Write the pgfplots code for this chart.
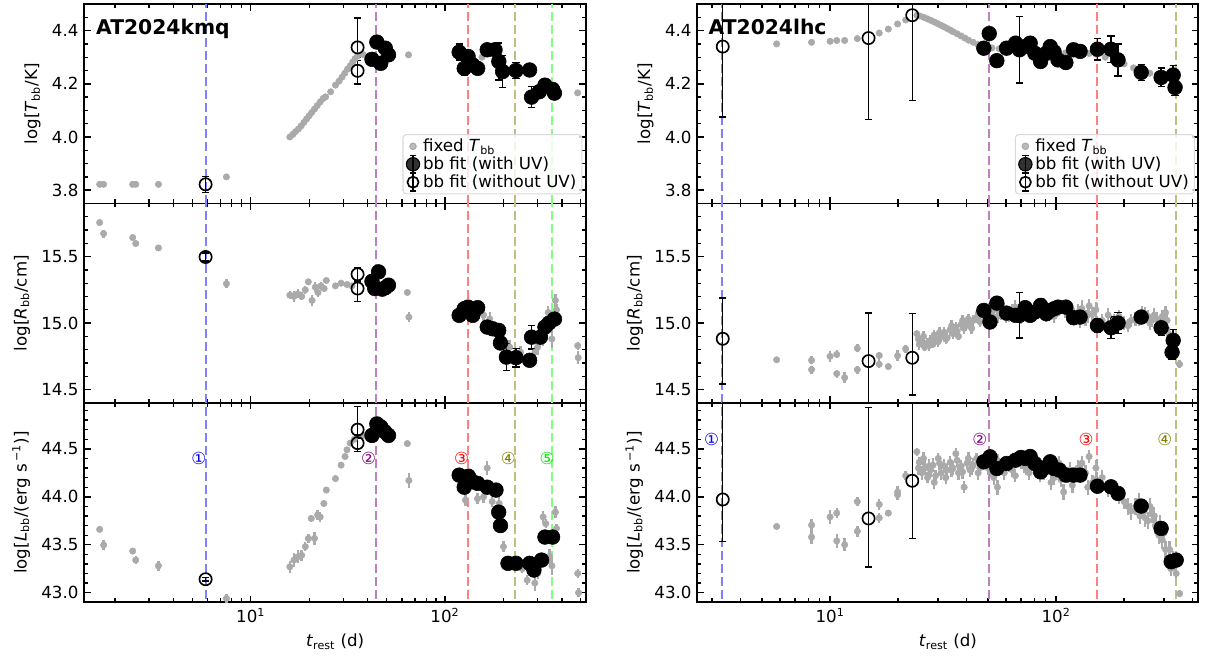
\documentclass[border=0pt]{standalone}
\usepackage{fontspec}
\setmainfont{DejaVu Sans}
\usepackage{pgfplots}
\usepackage{pgfplotstable}
\pgfplotsset{compat=1.18}

\definecolor{ptgray}{RGB}{170,170,170}
\definecolor{lblue}{RGB}{128,128,255}
\definecolor{lpurple}{RGB}{191,128,191}
\definecolor{lred}{RGB}{255,128,128}
\definecolor{lolive}{RGB}{191,191,128}
\definecolor{llime}{RGB}{128,255,128}
\definecolor{cblue}{RGB}{0,0,255}
\definecolor{cpurple}{RGB}{128,0,128}
\definecolor{cred}{RGB}{255,0,0}
\definecolor{colive}{RGB}{128,128,0}
\definecolor{clime}{RGB}{0,230,0}

% ================= AT2024kmq =================
\pgfplotstableread{
t v
1.67 3.822
1.75 3.822
2.47 3.822
2.56 3.822
3.35 3.822
7.5 3.850
15.9 4.000
16.5 4.010
17.0 4.020
17.6 4.030
18.2 4.042
18.8 4.055
19.4 4.068
20.0 4.080
20.6 4.092
21.3 4.105
22.0 4.118
22.8 4.132
23.6 4.145
24.3 4.151
25.8 4.170
27.3 4.195
28.5 4.210
29.5 4.225
30.5 4.240
31.5 4.255
32.5 4.268
33.5 4.282
34.5 4.295
35.5 4.305
38.0 4.310
64.9 4.309
140 4.290
155 4.300
162 4.315
170 4.325
482 4.166
}\kmqTg
\pgfplotstableread{
t v ep em
5.86 3.822 0.03 0.03
35.5 4.337 0.11 0.05
35.5 4.249 0.05 0.05
}\kmqTo
\pgfplotstableread{
t v e
42.1 4.292 0.02
44.6 4.357 0.02
46.7 4.277 0.02
49.3 4.334 0.02
51.2 4.309 0.02
118.3 4.319 0.03
125.6 4.258 0.025
131.5 4.303 0.02
139.0 4.271 0.025
147.3 4.258 0.02
165.0 4.328 0.015
180.9 4.328 0.015
189.3 4.284 0.07
198.0 4.246 0.06
232.0 4.250 0.03
272.7 4.252 0.025
279.0 4.150 0.04
305.5 4.170 0.02
327.0 4.195 0.02
358.0 4.179 0.02
366.0 4.165 0.02
}\kmqTb

\pgfplotstableread{
t v e
1.67 15.756 0.015
1.75 15.673 0.03
2.47 15.643 0.015
2.56 15.598 0.02
3.35 15.565 0.025
7.5 15.296 0.035
15.9 15.21 0.03
16.7 15.20 0.04
17.5 15.22 0.035
18.3 15.20 0.03
19.1 15.25 0.03
19.8 15.31 0.02
20.7 15.17 0.04
21.5 15.27 0.04
22.2 15.23 0.035
23.0 15.28 0.03
23.9 15.26 0.02
24.5 15.32 0.02
27.3 15.28 0.015
29.2 15.30 0.015
31.3 15.29 0.015
33.2 15.28 0.015
40.2 15.30 0.015
64.0 15.23 0.015
65.2 15.045 0.04
150 15.08 0.04
158 15.06 0.05
170 15.03 0.05
185 14.95 0.05
195 14.90 0.05
215 14.82 0.05
245 14.78 0.05
290 14.78 0.05
300 14.82 0.06
320 14.88 0.05
340 15.08 0.05
355 14.88 0.07
370 15.17 0.05
375 15.10 0.04
482 14.83 0.03
485 14.74 0.05
}\kmqRg
\pgfplotstableread{
t v ep em
5.86 15.497 0.03 0.03
35.5 15.367 0.05 0.05
35.5 15.260 0.05 0.10
}\kmqRo
\pgfplotstableread{
t v e
42.1 15.314 0.02
43.5 15.260 0.02
45.5 15.385 0.02
47.5 15.255 0.02
49.3 15.266 0.02
51.2 15.285 0.02
118.3 15.058 0.04
125.6 15.108 0.04
131.5 15.120 0.03
139.0 15.058 0.03
147.3 15.116 0.03
165.0 14.970 0.02
176.0 14.957 0.02
189.0 14.945 0.02
193.0 14.850 0.03
207.0 14.744 0.10
232.0 14.740 0.07
272.7 14.720 0.02
279.0 14.894 0.09
310.0 14.894 0.03
327.0 14.970 0.03
343.0 15.000 0.03
366.0 15.030 0.03
}\kmqRb

\pgfplotstableread{
t v e
1.67 43.66 0.015
1.75 43.497 0.05
2.47 43.434 0.02
2.56 43.34 0.04
3.35 43.28 0.05
7.5 42.94 0.05
15.9 43.27 0.06
16.7 43.34 0.07
17.5 43.375 0.07
18.3 43.39 0.06
19.1 43.48 0.05
19.8 43.566 0.05
20.5 43.774 0.04
21.3 43.566 0.07
22.1 43.81 0.05
22.8 43.79 0.05
23.8 43.93 0.04
24.5 44.07 0.03
27.3 44.19 0.02
29.2 44.33 0.02
30.6 44.42 0.02
31.3 44.49 0.02
32.5 44.56 0.02
34.1 44.60 0.02
38.0 44.64 0.02
40.0 44.62 0.02
64.0 44.555 0.02
65.2 44.17 0.08
127.5 43.965 0.06
147 43.98 0.06
158 44.00 0.07
165 44.30 0.07
175 43.95 0.06
190 43.93 0.08
200 43.48 0.06
250 43.25 0.05
265 43.13 0.05
290 43.10 0.08
300 43.20 0.06
320 43.79 0.06
330 43.72 0.05
345 43.38 0.08
355 43.28 0.10
370 43.84 0.06
375 43.67 0.05
482 43.20 0.05
487 43.00 0.05
}\kmqLg
\pgfplotstableread{
t v ep em
5.86 43.14 0.02 0.02
35.5 44.70 0.24 0.05
35.5 44.56 0.05 0.09
}\kmqLo
\pgfplotstableread{
t v e
42.1 44.64 0.02
44.6 44.76 0.02
46.7 44.73 0.02
48.9 44.68 0.02
51.2 44.64 0.02
118.3 44.226 0.02
125.6 44.10 0.02
132.0 44.215 0.02
139.0 44.156 0.02
147.3 44.14 0.02
165.0 44.10 0.02
183.0 44.07 0.02
189.0 43.84 0.02
193.0 43.70 0.02
211.0 43.306 0.02
232.0 43.306 0.02
272.7 43.306 0.02
287.0 43.236 0.02
314.0 43.34 0.02
327.0 43.58 0.02
358.0 43.58 0.02
}\kmqLb

% ================= AT2024lhc =================
\pgfplotstableread{
t v
5.8 4.350
8.28 4.356
10.0 4.360
10.7 4.363
11.6 4.363
13.2 4.370
16.5 4.391
18.1 4.406
19.9 4.425
21.6 4.440
24.2 4.458
25 4.455
26 4.450
27 4.444
28 4.438
29 4.432
30 4.426
31 4.420
32 4.414
33 4.408
34 4.402
35 4.396
36.5 4.388
38 4.380
39.5 4.372
41 4.364
43 4.356
45 4.348
47 4.342
49 4.338
52 4.335
56 4.332
60 4.330
70 4.330
80 4.325
90 4.320
100 4.318
110 4.316
120 4.315
130 4.315
140 4.314
150 4.312
165 4.300
180 4.290
200 4.275
220 4.260
240 4.250
260 4.240
280 4.235
300 4.230
320 4.220
340 4.210
352 4.190
}\lhcTg
\pgfplotstableread{
t v ep em
3.35 4.340 0.40 0.265
14.8 4.372 0.40 0.306
23.1 4.458 0.40 0.320
}\lhcTo
\pgfplotstableread{
t v e
47.9 4.334 0.015
50.6 4.389 0.015
54.7 4.287 0.02
60.4 4.334 0.015
66.2 4.353 0.015
68.9 4.328 0.125
73.0 4.340 0.02
76.8 4.353 0.02
80.5 4.315 0.02
85.4 4.284 0.02
90.6 4.315 0.02
94.2 4.340 0.02
98.0 4.320 0.02
102.0 4.290 0.02
110.5 4.280 0.02
119.5 4.328 0.02
127.7 4.322 0.02
152.4 4.330 0.04
175.0 4.330 0.05
188.0 4.290 0.06
238.0 4.243 0.03
291.6 4.224 0.035
329.7 4.233 0.035
336.0 4.186 0.03
}\lhcTb

\pgfplotstableread{
t v e
5.8 14.724 0.02
8.28 14.72 0.03
8.28 14.65 0.03
10.0 14.75 0.04
10.7 14.764 0.03
10.7 14.62 0.03
11.6 14.59 0.04
13.2 14.81 0.03
13.2 14.65 0.03
16.5 14.756 0.03
16.5 14.69 0.03
18.1 14.673 0.02
19.9 14.754 0.04
21.6 14.806 0.03
24.2 14.92 0.03
24.8 14.84 0.04
25.5 14.86 0.04
26.2 14.82 0.03
27.0 14.85 0.04
27.8 14.87 0.04
28.5 14.84 0.03
29.3 14.88 0.04
30.1 14.86 0.04
31.0 14.90 0.04
32.0 14.93 0.04
33.0 14.89 0.04
34.0 14.95 0.04
35.0 14.92 0.04
36.0 14.97 0.04
37.0 14.90 0.03
38.0 14.99 0.04
39.2 14.96 0.04
40.4 15.00 0.04
41.6 14.98 0.04
43.0 15.02 0.04
44.5 15.04 0.04
46.0 15.01 0.04
47.5 15.06 0.04
50 15.05 0.04
53 15.10 0.04
57 15.07 0.05
60 15.04 0.04
64 15.10 0.04
68 15.05 0.05
72 15.08 0.05
76 15.10 0.04
80 15.06 0.05
85 15.12 0.04
90 15.05 0.04
95 15.10 0.04
100 15.07 0.04
105 15.12 0.05
110 15.09 0.05
115 15.03 0.04
120 15.06 0.05
125 15.08 0.06
130 15.11 0.06
135 15.04 0.06
140 15.13 0.05
145 15.07 0.05
160 15.02 0.05
170 15.06 0.05
180 15.02 0.05
200 15.00 0.05
215 15.02 0.05
225 15.03 0.05
240 15.08 0.05
255 15.05 0.05
265 15.02 0.05
280 15.03 0.05
295 15.05 0.05
305 15.08 0.05
310 15.02 0.05
315 14.92 0.05
322 14.85 0.05
330 14.80 0.05
340 14.78 0.04
352 14.69 0.03
24.6 14.88 0.04
25.9 14.90 0.04
27.4 14.83 0.04
28.9 14.91 0.04
30.5 14.93 0.04
32.5 14.88 0.04
34.5 14.98 0.04
36.5 14.94 0.04
38.6 15.02 0.04
40.9 15.03 0.04
42.3 14.96 0.04
45.2 15.07 0.04
48.5 15.03 0.04
51.5 15.08 0.04
55 15.05 0.05
59 15.10 0.05
62 15.06 0.05
66 15.12 0.05
70 15.04 0.05
74 15.11 0.05
78 15.06 0.05
83 15.09 0.05
88 15.14 0.05
93 15.08 0.05
98 15.05 0.05
103 15.10 0.05
113 15.12 0.05
118 15.05 0.05
128 15.02 0.06
138 15.06 0.06
150 15.10 0.06
190 15.05 0.05
208 14.98 0.05
232 15.03 0.05
248 15.07 0.05
260 15.00 0.05
272 15.06 0.05
288 15.00 0.05
300 15.04 0.05
318 14.86 0.05
335 14.82 0.05
}\lhcRg
\pgfplotstableread{
t v ep em
3.35 14.882 0.307 0.339
14.8 14.714 0.361 0.36
23.1 14.739 0.331 0.28
}\lhcRo
\pgfplotstableread{
t v e
47.9 15.095 0.02
51.0 15.008 0.02
54.7 15.150 0.02
60.4 15.075 0.02
66.2 15.058 0.02
68.9 15.058 0.17
73.0 15.116 0.02
76.8 15.058 0.02
80.5 15.083 0.02
85.4 15.133 0.02
90.6 15.070 0.02
94.2 15.095 0.02
98.0 15.108 0.02
102.0 15.120 0.02
110.5 15.120 0.02
119.5 15.040 0.02
127.7 15.045 0.02
152.4 14.982 0.05
175.0 14.965 0.08
188.0 15.000 0.08
238.0 15.045 0.05
291.6 14.965 0.06
329.7 14.870 0.08
326.0 14.780 0.05
}\lhcRb

\pgfplotstableread{
t v e
5.8 43.69 0.03
8.28 43.705 0.06
8.28 43.58 0.07
10.0 43.79 0.07
10.7 43.83 0.05
10.7 43.54 0.07
11.6 43.50 0.07
13.2 43.95 0.05
13.2 43.64 0.06
16.5 43.78 0.05
16.5 43.92 0.06
18.1 43.83 0.03
19.9 44.05 0.06
19.9 44.02 0.05
21.6 44.22 0.05
24.2 44.47 0.04
24.8 44.36 0.06
25.5 44.25 0.07
26.2 44.30 0.07
27.0 44.20 0.06
27.8 44.28 0.07
28.5 44.33 0.07
29.3 44.22 0.06
30.1 44.40 0.06
31.0 44.25 0.07
32.0 44.32 0.07
33.0 44.28 0.06
34.0 44.36 0.07
35.0 44.30 0.07
36.0 44.45 0.06
37.0 44.25 0.07
38.0 44.32 0.06
39.2 44.10 0.06
40.4 44.35 0.06
41.6 44.28 0.07
43.0 44.33 0.07
44.5 44.40 0.06
46.0 44.30 0.07
47.5 44.35 0.07
50 44.30 0.07
53 44.20 0.08
55 44.10 0.08
57 44.30 0.07
60 44.35 0.07
64 44.28 0.07
68 44.40 0.06
72 44.32 0.07
76 44.25 0.07
80 44.38 0.07
85 44.22 0.07
90 44.30 0.07
95 44.15 0.08
100 44.25 0.08
105 44.18 0.08
108 44.05 0.08
115 44.28 0.08
120 44.20 0.08
125 44.30 0.08
130 44.35 0.08
135 44.25 0.08
140 44.42 0.07
145 44.15 0.08
150 44.30 0.08
160 44.20 0.08
170 44.08 0.08
180 44.05 0.08
200 43.95 0.08
215 43.85 0.09
225 43.90 0.09
235 43.80 0.08
245 43.85 0.09
255 43.75 0.09
265 43.82 0.09
275 43.70 0.09
285 43.60 0.09
295 43.55 0.09
305 43.45 0.09
315 43.35 0.09
322 43.25 0.08
330 43.35 0.08
340 43.20 0.06
352 42.99 0.04
24.6 44.30 0.07
25.9 44.40 0.07
27.4 44.32 0.07
28.9 44.15 0.07
30.5 44.35 0.07
32.5 44.20 0.07
34.5 44.28 0.07
36.5 44.38 0.07
38.6 44.26 0.07
40.9 44.40 0.07
42.3 44.30 0.07
45.2 44.25 0.07
48.5 44.38 0.07
51.5 44.28 0.07
55 44.38 0.07
59 44.25 0.07
62 44.33 0.07
66 44.22 0.07
70 44.36 0.07
74 44.30 0.07
78 44.40 0.07
83 44.30 0.07
88 44.25 0.07
93 44.32 0.07
98 44.20 0.08
103 44.35 0.08
113 44.22 0.08
118 44.12 0.08
128 44.25 0.08
138 44.10 0.08
150 44.18 0.08
190 44.00 0.08
208 43.90 0.09
232 43.95 0.09
248 43.78 0.09
260 43.90 0.09
272 43.80 0.09
288 43.72 0.09
300 43.62 0.09
318 43.45 0.09
335 43.28 0.08
}\lhcLg
\pgfplotstableread{
t v ep em
3.35 43.972 1.2 0.44
14.8 43.774 1.16 0.505
23.1 44.167 1.0 0.60
}\lhcLo
\pgfplotstableread{
t v e
47.9 44.365 0.02
51.0 44.417 0.02
54.7 44.295 0.02
60.4 44.347 0.02
66.2 44.382 0.02
69.9 44.410 0.02
73.0 44.400 0.02
76.8 44.420 0.02
80.5 44.347 0.02
85.4 44.260 0.02
90.6 44.310 0.02
94.2 44.365 0.02
98.0 44.295 0.02
103.5 44.278 0.02
110.5 44.226 0.02
119.5 44.226 0.02
127.7 44.226 0.02
152.4 44.110 0.02
175.0 44.104 0.02
188.0 44.035 0.02
238.0 43.903 0.02
291.6 43.670 0.02
323.0 43.323 0.02
340.0 43.340 0.02
}\lhcLb

\newcommand{\myfs}{\fontsize{12}{14.4}\selectfont}

\pgfplotsset{
  mypanel/.style={
    scale only axis, height=143.6pt, font=\myfs,
    tick align=inside, major tick length=4.8pt, minor tick length=2.9pt,
    axis line style={line width=1.3pt},
    every major tick/.append style={black, line width=1.1pt},
    every minor tick/.append style={black, line width=0.9pt},
    every tick label/.append style={font=\myfs},
    every axis label/.append style={font=\myfs},
    xtick={10,100},
    minor xtick={2,3,4,5,6,7,8,9,20,30,40,50,60,70,80,90,200,300,400,500},
    xticklabels={},
    yticklabel={\myfs\pgfmathprintnumber[fixed,fixed zerofill,precision=1,assume math mode=true]{\tick}},
    clip=true,
  },
  myleft/.style={mypanel, width=361.2pt, xmin=1.392, xmax=531.8},
  myright/.style={mypanel, width=360.7pt, xmin=2.587, xmax=426.2},
  mytop/.style={ymin=3.75, ymax=4.5, ytick={3.8,4.0,4.2,4.4},
    minor ytick={3.75,3.8,...,4.51}, ylabel={\myfs log[\textit{T}\textsubscript{bb}/K]}},
  mymid/.style={ymin=14.4, ymax=15.9, ytick={14.5,15.0,15.5},
    minor ytick={14.4,14.5,...,15.91}, ylabel={\myfs log[\textit{R}\textsubscript{bb}/cm]}},
  mybot/.style={ymin=42.9, ymax=44.98, ytick={43.0,43.5,44.0,44.5},
    minor ytick={42.9,43.0,...,44.99},
    ylabel={\myfs log[\textit{L}\textsubscript{bb}/(erg\,\,s\,\textsuperscript{−1})]},
    xticklabels={{\myfs 10\textsuperscript{1}},{\myfs 10\textsuperscript{2}}},
    xlabel={\myfs\textit{t}\textsubscript{rest} (d)}},
  myvl/.style={line width=1.5pt, dash pattern=on 6.5pt off 2.9pt, forget plot},
  mygpt/.style={only marks, mark=*, mark size=2.3pt, ptgray, mark options={draw=ptgray, fill=ptgray}, forget plot},
  mygerr/.style={mygpt, error bars/.cd, y dir=both, y explicit, error mark=none,
    error bar style={ptgray, line width=1.7pt}},
  mybfit/.style={only marks, mark=*, mark size=5.3pt, black, forget plot,
    error bars/.cd, y dir=both, y explicit, error bar style={black, line width=1pt},
    error mark options={rotate=90, mark size=2.6pt, line width=1pt, black}},
  myofit/.style={only marks, mark=o, mark size=4.4pt, black, mark options={line width=1.2pt, fill=none}, forget plot,
    error bars/.cd, y dir=both, y explicit, error bar style={black, line width=1pt},
    error mark options={rotate=90, mark size=2.6pt, line width=1pt, black}},
  myleg/.style={legend style={at={(0.993,0.045)}, anchor=south east, draw=black!15, line width=0.8pt,
    rounded corners=2.5pt, fill=white, fill opacity=0.8, text opacity=1,
    inner xsep=2pt, inner ysep=1pt, row sep=-2pt, font=\myfs},
    legend cell align=left},
}

\newcommand{\legendentries}{%
  \addlegendimage{legend image code/.code={\fill[ptgray] (0.3cm,0cm) circle (2.3pt);}}
  \addlegendentry{fixed \textit{T}\textsubscript{bb}}
  \addlegendimage{legend image code/.code={\draw[black,line width=1pt] (0.3cm,-0.22cm) -- (0.3cm,0.22cm) (0.22cm,-0.22cm)--(0.38cm,-0.22cm) (0.22cm,0.22cm)--(0.38cm,0.22cm); \fill[black] (0.3cm,0cm) circle (4.8pt);}}
  \addlegendentry{bb fit (with UV)}
  \addlegendimage{legend image code/.code={\draw[black,line width=1pt] (0.3cm,-0.22cm) -- (0.3cm,0.22cm) (0.22cm,-0.22cm)--(0.38cm,-0.22cm) (0.22cm,0.22cm)--(0.38cm,0.22cm); \draw[black,line width=1.2pt] (0.3cm,0cm) circle (4pt);}}
  \addlegendentry{bb fit (without UV)}
}

\newcommand{\vlinesL}[2]{%
  \addplot[myvl, lblue] coordinates {(5.87,#1) (5.87,#2)};
  \addplot[myvl, lpurple] coordinates {(44.2,#1) (44.2,#2)};
  \addplot[myvl, lred] coordinates {(130.9,#1) (130.9,#2)};
  \addplot[myvl, lolive] coordinates {(229.2,#1) (229.2,#2)};
  \addplot[myvl, llime] coordinates {(356.6,#1) (356.6,#2)};
}
\newcommand{\vlinesR}[2]{%
  \addplot[myvl, lblue] coordinates {(3.32,#1) (3.32,#2)};
  \addplot[myvl, lpurple] coordinates {(50.7,#1) (50.7,#2)};
  \addplot[myvl, lred] coordinates {(152.3,#1) (152.3,#2)};
  \addplot[myvl, lolive] coordinates {(338.5,#1) (338.5,#2)};
}

\begin{document}
\myfs
\begin{tikzpicture}[font=\myfs]
\useasboundingbox (0,0) rectangle (868.3pt,476.6pt);

% ---------------- left column ----------------
\begin{semilogxaxis}[myleft, mytop, myleg, at={(60.7pt,330.1pt)}, anchor=south west]
  \vlinesL{3.7}{4.6}
  \addplot[mygpt] table[x=t,y=v] {\kmqTg};
  \addplot[myofit] table[x=t,y=v,y error plus=ep,y error minus=em] {\kmqTo};
  \addplot[mybfit] table[x=t,y=v,y error=e] {\kmqTb};
  \node[anchor=base west, inner sep=0pt, font=\fontsize{14.6}{16}\selectfont\bfseries] at (rel axis cs:0.023,0.848) {AT2024kmq};
  \legendentries
\end{semilogxaxis}

\begin{semilogxaxis}[myleft, mymid, at={(60.7pt,186.55pt)}, anchor=south west]
  \vlinesL{14.3}{16}
  \addplot[mygerr] table[x=t,y=v,y error=e] {\kmqRg};
  \addplot[myofit] table[x=t,y=v,y error plus=ep,y error minus=em] {\kmqRo};
  \addplot[mybfit] table[x=t,y=v,y error=e] {\kmqRb};
\end{semilogxaxis}

\begin{semilogxaxis}[myleft, mybot, at={(60.7pt,42.98pt)}, anchor=south west]
  \vlinesL{42.8}{45.1}
  \addplot[mygerr] table[x=t,y=v,y error=e] {\kmqLg};
  \addplot[myofit] table[x=t,y=v,y error plus=ep,y error minus=em] {\kmqLo};
  \addplot[mybfit] table[x=t,y=v,y error=e] {\kmqLb};
  \node[text=cblue, font=\myfs] at (axis cs:5.41,44.4) {①};
  \node[text=cpurple, font=\myfs] at (axis cs:40.5,44.4) {②};
  \node[text=cred, font=\myfs] at (axis cs:121.6,44.4) {③};
  \node[text=colive, font=\myfs] at (axis cs:212,44.4) {④};
  \node[text=clime, font=\myfs] at (axis cs:335,44.4) {⑤};
\end{semilogxaxis}

% ---------------- right column ----------------
\begin{semilogxaxis}[myright, mytop, myleg, at={(502.1pt,330.1pt)}, anchor=south west]
  \vlinesR{3.7}{4.6}
  \addplot[mygpt] table[x=t,y=v] {\lhcTg};
  \addplot[myofit] table[x=t,y=v,y error plus=ep,y error minus=em] {\lhcTo};
  \addplot[mybfit] table[x=t,y=v,y error=e] {\lhcTb};
  \node[anchor=base west, inner sep=0pt, font=\fontsize{14.6}{16}\selectfont\bfseries] at (rel axis cs:0.022,0.848) {AT2024lhc};
  \legendentries
\end{semilogxaxis}

\begin{semilogxaxis}[myright, mymid, at={(502.1pt,186.55pt)}, anchor=south west]
  \vlinesR{14.3}{16}
  \addplot[mygerr] table[x=t,y=v,y error=e] {\lhcRg};
  \addplot[myofit] table[x=t,y=v,y error plus=ep,y error minus=em] {\lhcRo};
  \addplot[mybfit] table[x=t,y=v,y error=e] {\lhcRb};
\end{semilogxaxis}

\begin{semilogxaxis}[myright, mybot, at={(502.1pt,42.98pt)}, anchor=south west]
  \vlinesR{42.8}{45.1}
  \addplot[mygerr] table[x=t,y=v,y error=e] {\lhcLg};
  \addplot[myofit] table[x=t,y=v,y error plus=ep,y error minus=em] {\lhcLo};
  \addplot[mybfit] table[x=t,y=v,y error=e] {\lhcLb};
  \node[text=cblue, font=\myfs] at (axis cs:2.99,44.6) {①};
  \node[text=cpurple, font=\myfs] at (axis cs:46,44.6) {②};
  \node[text=cred, font=\myfs] at (axis cs:135.9,44.6) {③};
  \node[text=colive, font=\myfs] at (axis cs:303,44.6) {④};
\end{semilogxaxis}
\end{tikzpicture}
\end{document}
